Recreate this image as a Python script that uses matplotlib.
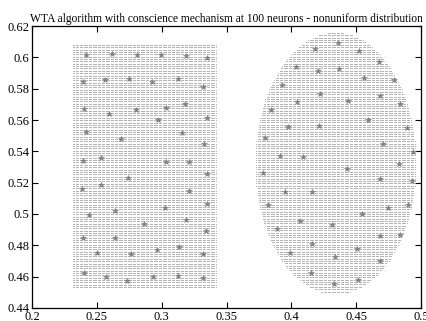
import matplotlib
matplotlib.use("Agg")
import matplotlib.pyplot as plt
import numpy as np

# data grid (uniform lattice of training points)
rect_x = (0.2317, 0.342)
rect_y = (0.4534, 0.609)
ell_center = (0.434, 0.5325)
ell_axes = (0.062, 0.0835)
step_x = 0.001
step_y = 0.0015

# neuron positions
neuron_x = [0.2418, 0.2616, 0.2810, 0.2998, 0.3189, 0.3351, 0.2392, 0.2565, 0.2750, 0.2928,
            0.3124, 0.3320, 0.3178, 0.2402, 0.2590, 0.2804, 0.3034, 0.2969, 0.3346, 0.2415,
            0.3158, 0.2686, 0.3330, 0.2392, 0.2534, 0.3034, 0.3214, 0.2737, 0.3351, 0.2384,
            0.2534, 0.3209, 0.3029, 0.3346, 0.2436, 0.2637, 0.2861, 0.3191, 0.3343, 0.2392,
            0.2642, 0.2500, 0.2763, 0.2964, 0.3137, 0.3317, 0.2397, 0.2572, 0.2732, 0.2930,
            0.3127, 0.3320,
            0.4361, 0.4183, 0.4519, 0.4674, 0.4034, 0.4202, 0.4369, 0.4557, 0.4790, 0.3926,
            0.4222, 0.4684, 0.4434, 0.4042, 0.4841, 0.3843, 0.4593, 0.3977, 0.4214, 0.4893,
            0.3797, 0.4705, 0.4941, 0.3910, 0.4086, 0.4828, 0.4426, 0.3781, 0.4686, 0.4929,
            0.3949, 0.4158, 0.3820, 0.4748, 0.4898, 0.4542, 0.4067, 0.4312, 0.3892, 0.4684,
            0.4838, 0.4163, 0.4506, 0.3988, 0.4338, 0.4684, 0.4150, 0.4516, 0.4330]
neuron_y = [0.6015, 0.6021, 0.6015, 0.6015, 0.6010, 0.5998, 0.5845, 0.5855, 0.5862, 0.5845,
            0.5862, 0.5813, 0.5702, 0.5668, 0.5637, 0.5664, 0.5675, 0.5600, 0.5615, 0.5522,
            0.5515, 0.5477, 0.5445, 0.5338, 0.5356, 0.5334, 0.5334, 0.5228, 0.5256, 0.5158,
            0.5185, 0.5147, 0.5037, 0.5062, 0.4994, 0.5019, 0.4936, 0.4962, 0.4892, 0.4849,
            0.4849, 0.4753, 0.4743, 0.4771, 0.4792, 0.4745, 0.4622, 0.4596, 0.4573, 0.4596,
            0.4605, 0.4590,
            0.6093, 0.6053, 0.6040, 0.5968, 0.5940, 0.5915, 0.5926, 0.5870, 0.5855, 0.5823,
            0.5766, 0.5753, 0.5723, 0.5713, 0.5700, 0.5667, 0.5600, 0.5554, 0.5562, 0.5547,
            0.5487, 0.5445, 0.5398, 0.5370, 0.5362, 0.5317, 0.5287, 0.5264, 0.5222, 0.5211,
            0.5143, 0.5143, 0.5058, 0.5037, 0.5058, 0.5000, 0.4958, 0.4930, 0.4903, 0.4862,
            0.4866, 0.4809, 0.4775, 0.4753, 0.4728, 0.4700, 0.4622, 0.4579, 0.4552]

x_ticks = [0.2, 0.25, 0.3, 0.35, 0.4, 0.45, 0.5]
y_ticks = [0.44, 0.46, 0.48, 0.5, 0.52, 0.54, 0.56, 0.58, 0.6, 0.62]

# build the lattice
gx, gy = np.meshgrid(np.arange(rect_x[0], rect_x[1], step_x),
                     np.arange(rect_y[0], rect_y[1], step_y))
ex, ey = np.meshgrid(np.arange(ell_center[0] - ell_axes[0], ell_center[0] + ell_axes[0], step_x),
                     np.arange(ell_center[1] - ell_axes[1], ell_center[1] + ell_axes[1], step_y))
inside = ((ex - ell_center[0]) / ell_axes[0])**2 + ((ey - ell_center[1]) / ell_axes[1])**2 <= 1
pts_x = np.concatenate([gx.ravel(), ex[inside]])
pts_y = np.concatenate([gy.ravel(), ey[inside]])

plt.rcParams['font.family'] = ['Liberation Serif', 'DejaVu Serif']

fig = plt.figure(figsize=(4.27, 3.21), dpi=100)
ax = fig.add_axes([0.075, 0.0405, 0.911, 0.8785])

ax.plot(pts_x, pts_y, linestyle='none', marker='s', markersize=0.45,
        markeredgewidth=0, color='#8a8a8a')
ax.plot(neuron_x, neuron_y, linestyle='none', marker='*', markersize=4,
        markeredgewidth=0.4, color='#808080')

ax.set_xlim(0.2, 0.5)
ax.set_ylim(0.44, 0.62)
ax.set_xticks(x_ticks)
ax.set_xticklabels(['0.2', '0.25', '0.3', '0.35', '0.4', '0.45', '0.5'])
ax.set_yticks(y_ticks)
ax.set_yticklabels(['0.44', '0.46', '0.48', '0.5', '0.52', '0.54', '0.56', '0.58', '0.6', '0.62'])
ax.tick_params(direction='in', top=True, right=True, length=4, width=0.8,
               labelsize=9, pad=2)
for s in ax.spines.values():
    s.set_linewidth(0.9)
ax.set_title('WTA algorithm with conscience mechanism at 100 neurons - nonuniform distribution',
             fontsize=8.3, pad=3)

fig.savefig('out.png', dpi=100)
